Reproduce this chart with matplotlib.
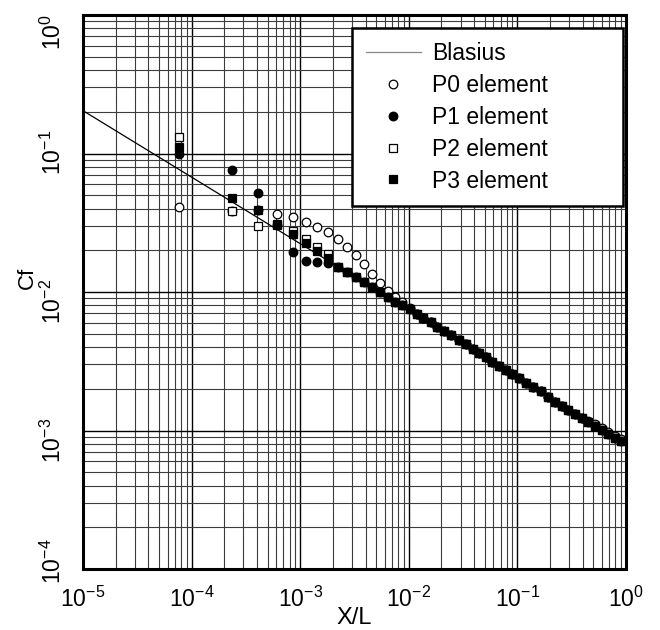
import matplotlib
matplotlib.use("Agg")
import matplotlib.pyplot as plt
import matplotlib.transforms as mtransforms
from matplotlib.ticker import LogLocator, NullFormatter, FixedLocator

plt.rcParams['font.family'] = ['Liberation Sans', 'DejaVu Sans']
plt.rcParams['mathtext.fontset'] = 'custom'
plt.rcParams['mathtext.rm'] = 'Liberation Sans'
plt.rcParams['mathtext.it'] = 'Liberation Sans'

# ---- data ----
x_vals = [7.66e-5, 2.36e-4, 4.11e-4, 6.15e-4, 8.59e-4, 1.13e-3, 1.44e-3, 1.82e-3,
          2.21e-3, 2.72e-3, 3.27e-3, 3.88e-3, 4.61e-3, 5.43e-3, 6.39e-3, 7.46e-3, 8.71e-3,
          0.01026, 0.01182, 0.01360, 0.01591, 0.01830, 0.02122, 0.02472, 0.02900,
          0.03363, 0.03877, 0.04459, 0.05140, 0.05873, 0.06769, 0.07804, 0.08974,
          0.1034, 0.1192, 0.1392, 0.1632, 0.1913, 0.2220, 0.2557, 0.2942,
          0.3391, 0.3909, 0.4496, 0.5183, 0.5974, 0.6871, 0.7919, 0.8995]

tail_vals = [0.007500, 0.006939, 0.006457, 0.006042, 0.005617, 0.005229, 0.004852, 0.004500,
             0.004197, 0.003857, 0.003609, 0.003377, 0.003139, 0.002921, 0.002733, 0.002557,
             0.002381, 0.002213, 0.002071, 0.001919, 0.001754, 0.001614, 0.001503, 0.001406,
             0.001316, 0.001225, 0.001146, 0.001078, 0.001008, 0.000943, 0.000888, 0.000845]

p0_head = [0.0409, 0.0385, 0.0391, 0.0364, 0.0346, 0.0319, 0.0296, 0.0270,
           0.0240, 0.0212, 0.0185, 0.0158, 0.0135, 0.0117, 0.0102, 0.00925, 0.00843]
p0_tail = [0.00765, 0.006939, 0.006457, 0.006042, 0.005617, 0.005229, 0.004852, 0.004500,
           0.004197, 0.003857, 0.003609, 0.003377, 0.003139, 0.002921, 0.002733, 0.002557,
           0.002381, 0.002213, 0.002071, 0.001919, 0.001754, 0.001614, 0.001503, 0.001406,
           0.001316, 0.001225, 0.001175, 0.001110, 0.001040, 0.000975, 0.000918, 0.000870]

p1_head = [0.0992, 0.0760, 0.0516, 0.0307, 0.0195, 0.0167, 0.0166, 0.0161,
           0.0152, 0.0140, 0.0129, 0.0119, 0.0109, 0.01005, 0.00925, 0.00851, 0.00805]
p2_head = [0.131, 0.0385, 0.0298, 0.0312, 0.02756, 0.02405, 0.02096, 0.01875,
           0.0152, 0.0140, 0.0129, 0.0119, 0.0109, 0.01005, 0.00925, 0.00851, 0.00805]
p3_head = [0.112, 0.0480, 0.0391, 0.0307, 0.02609, 0.02270, 0.01977, 0.01769,
           0.0152, 0.0140, 0.0129, 0.0119, 0.0109, 0.01005, 0.00925, 0.00851, 0.00805]

blasius_x = [1e-5, 1.0]
blasius_y = [0.2038, 8.12e-4]

y_ticks = [1e-4, 1e-3, 1e-2, 1e-1, 1.0]
y_tick_labels = ['$10^{-4}$', '$10^{-3}$', '$10^{-2}$', '$10^{-1}$', '$10^{0}$']
x_ticks = [1e-5, 1e-4, 1e-3, 1e-2, 1e-1, 1.0]

p0 = p0_head + p0_tail
p1 = p1_head + tail_vals
p2 = p2_head + tail_vals
p3 = p3_head + tail_vals

# ---- figure ----
fig = plt.figure(figsize=(6.6, 6.3), dpi=100)
ax = fig.add_axes([83/660, 1 - 569/630, 543/660, 554/630])
ax.set_xscale('log')
ax.set_yscale('log')
ax.set_xlim(1e-5, 1)
ax.set_ylim(1e-4, 1)

ax.xaxis.set_major_locator(FixedLocator(x_ticks))
ax.yaxis.set_major_locator(FixedLocator(y_ticks))
ax.xaxis.set_minor_locator(LogLocator(base=10, subs=range(2, 10), numticks=100))
ax.yaxis.set_minor_locator(LogLocator(base=10, subs=range(2, 10), numticks=100))
ax.xaxis.set_minor_formatter(NullFormatter())
ax.yaxis.set_minor_formatter(NullFormatter())

ax.grid(True, which='major', color='black', linewidth=1.0)
ax.grid(True, which='minor', color='#3c3c3c', linewidth=0.8)
ax.set_axisbelow(True)

ax.plot(blasius_x, blasius_y, color='black', linewidth=0.9, zorder=3, label='Blasius')
ms_c = 6.2
ms_s = 5.4
ax.plot(x_vals, p0, linestyle='none', marker='o', markersize=ms_c, markerfacecolor='white',
        markeredgecolor='black', markeredgewidth=0.9, zorder=4, label='P0 element')
ax.plot(x_vals, p1, linestyle='none', marker='o', markersize=ms_c, markerfacecolor='black',
        markeredgecolor='black', markeredgewidth=0.9, zorder=5, label='P1 element')
ax.plot(x_vals, p2, linestyle='none', marker='s', markersize=ms_s, markerfacecolor='white',
        markeredgecolor='black', markeredgewidth=0.9, zorder=6, label='P2 element')
ax.plot(x_vals, p3, linestyle='none', marker='s', markersize=ms_s, markerfacecolor='black',
        markeredgecolor='black', markeredgewidth=0.9, zorder=7, label='P3 element')

for sp in ax.spines.values():
    sp.set_linewidth(2.2)
    sp.set_color('black')
    sp.set_zorder(10)

ax.tick_params(which='both', length=0)
ax.tick_params(axis='x', labelsize=16.5, pad=13)
ax.tick_params(axis='y', labelleft=False)

# y tick labels, rotated, placed beside the decades (shift in pixels, downward positive)
y_label_shift_px = [-8, 10, 9, -1, 17]
ytrans = ax.get_yaxis_transform()
for val, txt, sh in zip(y_ticks, y_tick_labels, y_label_shift_px):
    off = mtransforms.ScaledTranslation(0, -sh / 100.0, fig.dpi_scale_trans)
    ax.text(-0.031, val, txt, transform=ytrans + off, rotation=90,
            ha='right', va='center', fontsize=16.5, clip_on=False)

ax.set_xlabel('X/L', fontsize=17)
ax.xaxis.set_label_coords(0.5, -0.068)
ax.set_ylabel('Cf', fontsize=16)
ax.yaxis.set_label_coords(-0.083, 0.525)

leg = ax.legend(loc='upper left', bbox_to_anchor=(0.4954, 0.9765, 0.4991, 0.0),
                mode='expand', fontsize=16.5,
                frameon=True, fancybox=False, framealpha=1, edgecolor='black',
                borderaxespad=0, borderpad=0.6, handlelength=2.4, handletextpad=0.5,
                labelspacing=0.39)
leg.get_frame().set_linewidth(1.8)
leg.set_zorder(20)
for h in leg.get_lines():
    if h.get_label() == 'Blasius':
        h.set_color('#888888')

fig.savefig('out.png', dpi=100)
